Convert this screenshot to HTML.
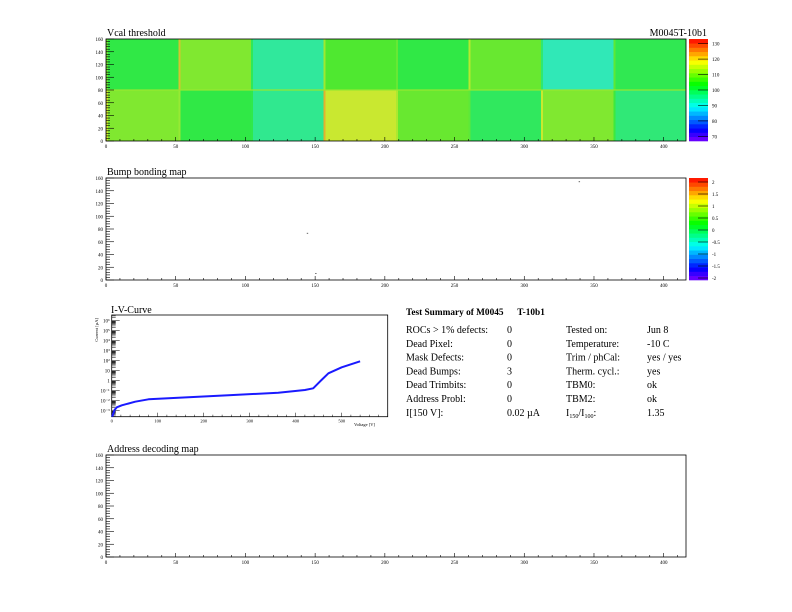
<!DOCTYPE html>
<html><head><meta charset="utf-8"><style>
html,body{margin:0;padding:0;background:#fff;}
svg{display:block;font-family:"Liberation Serif",serif;}
</style></head><body>
<svg id="s" width="792" height="612" viewBox="0 0 792 612" xmlns="http://www.w3.org/2000/svg"></svg>
<script>
// ---- data ----
const rocMeansTop = [102,110,95,106,102,108,93,101];
const rocMeansBottom = [110,102,96,116,108,100,110,98];
const rocEdgeBoost = [4,8,3,4,3,4,3,3];
const vcalTicks = [70,80,90,100,110,120,130];
const bumpTicks = ["2","1.5","1","0.5","0","-0.5","-1","-1.5","-2"];
const xTicks = [0,50,100,150,200,250,300,350,400];
const yTicks = [0,20,40,60,80,100,120,140,160];
const deadBumpsCol = [144,339,150];
const deadBumpsRow = [74,155,11];
const ivVoltage = [1,6,11,22,51,80,145,254,362,420,438,456,471,500,540];
const ivLogCurrent = [-3.6,-2.93,-2.66,-2.46,-2.1,-1.86,-1.7,-1.46,-1.2,-0.93,-0.76,0.07,0.74,1.34,1.94];
const ivYLabels = ["10⁻³","10⁻²","10⁻¹","1","10","10²","10³","10⁴","10⁵","10⁶"];
const ivXTicks = [0,100,200,300,400,500];

const S=document.getElementById('s');
const NS='http://www.w3.org/2000/svg';
function mk(tag,attrs,parent,text){const e=document.createElementNS(NS,tag);for(const k in attrs)e.setAttribute(k,attrs[k]);if(text!==undefined)e.textContent=text;(parent||S).appendChild(e);return e;}
function col(v,s){let t=(v-67)/66;t=Math.max(0,Math.min(1,t));return 'hsl('+(270*(1-t)).toFixed(0)+','+(s||100)+'%,'+(s?55:50)+'%)';}

const X0=106,X1=686,W=X1-X0;
function mx(c){return X0+c*W/416;}
function axes(g,yTop,yBot){
  const my=r=>yBot-r*(yBot-yTop)/160;
  mk('rect',{x:X0,y:yTop,width:W,height:yBot-yTop,fill:'none',stroke:'#000','stroke-width':0.8},g);
  for(let r=0;r<=160;r+=4){const L=r%20===0?8:(r%10===0?5:4);mk('line',{x1:X0,x2:X0+L,y1:my(r),y2:my(r),stroke:'#000','stroke-width':0.6},g);}
  yTicks.forEach(v=>{const t=mk('text',{x:X0-3,y:my(v)+2,'font-size':5,'text-anchor':'end'},g,String(v));});
  for(let c=0;c<=416;c+=10){const L=c%50===0?4:2;mk('line',{x1:mx(c),x2:mx(c),y1:yBot,y2:yBot-L,stroke:'#000','stroke-width':0.6},g);}
  xTicks.forEach(v=>{const t=mk('text',{x:mx(v),y:yBot+7,'font-size':5,'text-anchor':'middle'},g,String(v));});
  return my;
}
function colorbar(g,yTop,yBot,labels,fn){
  const n=24;
  for(let i=0;i<n;i++){const h=(yBot-yTop)/n;mk('rect',{x:689,y:yBot-(i+1)*h,width:19,height:h+0.3,fill:col(67+66*(i+0.5)/n)},g);}
  labels.forEach((l,i)=>{const y=fn(i);mk('line',{x1:698,x2:708,y1:y,y2:y,stroke:'#000','stroke-width':0.6},g);const t=mk('text',{x:712,y:y+2,'font-size':5},g,l);});
}

// ---- Vcal threshold map ----
const g1=mk('g',{});
const yT1=39,yB1=141;
const my1=r=>yB1-r*(yB1-yT1)/160;
for(let i=0;i<8;i++){
  [[rocMeansTop,80,160],[rocMeansBottom,0,80]].forEach(([arr,r0,r1])=>{
    const c0=i*52,c1=c0+52;
    const rc=mk('rect',{x:mx(c0),y:my1(r1),width:mx(c1)-mx(c0)+0.3,height:my1(r0)-my1(r1),fill:col(arr[i],80)},g1);
    
    mk('rect',{x:mx(c0),y:my1(r1),width:2,height:my1(r0)-my1(r1),fill:col(arr[i]+rocEdgeBoost[i]+4,80),opacity:0.8},g1);
  });
}
mk('rect',{x:X0,y:my1(80)-1,width:W,height:2,fill:col(112,80),opacity:0.6},g1);
axes(g1,yT1,yB1);
colorbar(g1,yT1,yB1,vcalTicks.slice().reverse().map(String),i=>{const v=vcalTicks[vcalTicks.length-1-i];return yB1-(v-67)/66*(yB1-yT1);});
let t=mk('text',{x:107,y:36,'font-size':10},g1,'Vcal threshold');
t=mk('text',{x:707,y:36,'font-size':10,'text-anchor':'end'},S,'M0045T-10b1');

// ---- Bump bonding map ----
const g2=mk('g',{});
const my2=axes(g2,178,280);
colorbar(g2,178,280,bumpTicks,i=>182+i*12);
deadBumpsCol.forEach((c,i)=>{const d=mk('rect',{x:mx(c),y:my2(deadBumpsRow[i]),width:1.4,height:1,fill:'#666'},g2);});
t=mk('text',{x:107,y:175,'font-size':10},g2,'Bump bonding map');

// ---- IV curve ----
const g3=mk('g',{});
const IX0=111.7,IX1=387.7,IY0=315,IY1=416.7;
const ivx=v=>IX0+v*(IX1-IX0)/600;
const ivy=l=>410.7-(l+3)*10;
mk('rect',{x:IX0,y:IY0,width:IX1-IX0,height:IY1-IY0,fill:'none',stroke:'#000','stroke-width':0.8},g3);
for(let d=-4;d<=6;d++){for(let k=1;k<10;k++){const y=ivy(d+Math.log10(k));if(y<IY0||y>IY1)continue;mk('line',{x1:IX0,x2:IX0+(k===1?8:4),y1:y,y2:y,stroke:'#000','stroke-width':0.5},g3);}}
ivYLabels.forEach((l,i)=>{const tt=mk('text',{x:IX0-2,y:ivy(i-3)+2,'font-size':5,'text-anchor':'end'},g3,l);});
for(let v=0;v<=600;v+=20){mk('line',{x1:ivx(v),x2:ivx(v),y1:IY1,y2:IY1-(v%100===0?4:2),stroke:'#000','stroke-width':0.5},g3);}
ivXTicks.forEach(v=>{const tt=mk('text',{x:ivx(v),y:IY1+6,'font-size':4.5,'text-anchor':'middle'},g3,String(v));});
const line=mk('polyline',{points:ivVoltage.map((v,i)=>ivx(v).toFixed(1)+','+ivy(ivLogCurrent[i]).toFixed(1)).join(' '),fill:'none',stroke:'#1a1aff','stroke-width':2,'stroke-linejoin':'round'},g3);

t=mk('text',{x:111,y:313,'font-size':10},g3,'I-V-Curve');
t=mk('text',{x:375,y:426,'font-size':4.5,'text-anchor':'end'},g3,'Voltage [V]');
t=mk('text',{x:0,y:0,'font-size':4.5,'text-anchor':'end',transform:'translate(98,318) rotate(-90)'},g3,'Current [µA]');

// ---- Summary ----
const g4=mk('g',{'font-size':10});
t=mk('text',{x:406,y:315,'font-weight':'bold','font-size':9.3,style:'white-space:pre'},g4,'Test Summary of M0045      T-10b1');
const left=[['ROCs > 1% defects:','0'],['Dead Pixel:','0'],['Mask Defects:','0'],['Dead Bumps:','3'],['Dead Trimbits:','0'],['Address Probl:','0'],['I[150 V]:','0.02 µA']];
const right=[['Tested on:','Jun 8'],['Temperature:','-10 C'],['Trim / phCal:','yes / yes'],['Therm. cycl.:','yes'],['TBM0:','ok'],['TBM2:','ok'],['','1.35']];
left.forEach((r,i)=>{const y=333+i*13.8;let a=mk('text',{x:406,y:y},g4,r[0]);a=mk('text',{x:507,y:y},g4,r[1]);});
right.forEach((r,i)=>{const y=333+i*13.8;let a=mk('text',{x:566,y:y},g4,r[0]);a=mk('text',{x:647,y:y},g4,r[1]);});
const rat=mk('text',{x:566,y:333+6*13.8},g4);
mk('tspan',{},rat,'I');mk('tspan',{'font-size':6,dy:2},rat,'150');mk('tspan',{dy:-2},rat,'/I');mk('tspan',{'font-size':6,dy:2},rat,'100');mk('tspan',{dy:-2},rat,':');

// ---- Address decoding map ----
const g5=mk('g',{});
axes(g5,455,557);
t=mk('text',{x:107,y:452,'font-size':10},g5,'Address decoding map');
</script>
</body></html>
